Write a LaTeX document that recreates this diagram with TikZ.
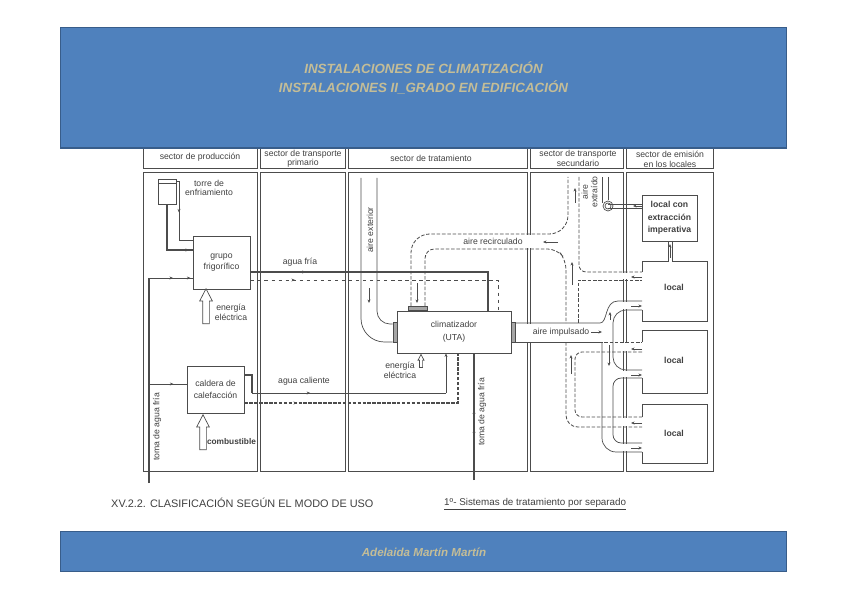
\documentclass[tikz,border=0pt]{standalone}
\usepackage{fontspec}
\setmainfont{Liberation Sans}
\usetikzlibrary{arrows.meta, shapes.arrows, decorations.markings}
\definecolor{azul}{HTML}{4F81BD}
\definecolor{azulborde}{HTML}{385D8A}
\definecolor{arena}{HTML}{C4BD97}
\definecolor{linea}{gray}{0.3}
\definecolor{texto}{gray}{0.25}
\tikzset{
    equipo/.style={draw=linea, line width=0.7pt, fill=white, align=center, inner sep=0pt, text=texto},
    rotulo/.style={text=texto, align=center, inner sep=0pt, font=\fontsize{7.4}{8}\selectfont},
    negrita/.style={text=texto, align=center, inner sep=0pt, font=\fontsize{7.4}{8}\selectfont\bfseries},
    banda/.style={fill=azul, draw=azulborde, line width=0.8pt},
    titulo/.style={text=arena, align=center, inner sep=0pt, font=\fontsize{11.4}{16.2}\selectfont\bfseries\itshape},
    agua/.style={draw=linea, line width=1.1pt},
    retorno/.style={draw=linea, line width=0.9pt, dash pattern=on 3pt off 1.2pt},
    conducto/.style={draw=linea, line width=0.6pt},
    recirc/.style={draw=linea, line width=0.7pt, dash pattern=on 3pt off 1.5pt},
    flecha/.style={draw=linea, line width=0.8pt, -{Stealth[length=3pt, width=2.5pt]}},
    gorda/.style={draw=linea, line width=0.6pt, fill=white, single arrow, shape border rotate=90, single arrow tip angle=55},
    marca/.style={postaction={decorate}, decoration={markings, mark=at position #1 with {\arrow{Stealth[length=3pt, width=2.5pt]}}}},
    marcados/.style 2 args={postaction={decorate}, decoration={markings,
        mark=at position #1 with {\arrow{Stealth[length=3pt, width=2.5pt]}},
        mark=at position #2 with {\arrow{Stealth[length=3pt, width=2.5pt]}}}},
}
\begin{document}
\begin{tikzpicture}[x=0.03cm, y=-0.03cm]
    \useasboundingbox (0,0) rectangle (848,599);

    % columnas de sectores
    \foreach \xa/\xb in {143/257, 260/345, 348/527, 530/623, 626/713} {
        \draw[linea, line width=0.6pt] (\xa,168) -- (\xa,145) (\xb,145) -- (\xb,168) -- (\xa,168);
        \draw[linea, line width=0.7pt] (\xa,172) rectangle (\xb,471);
    }
    \node[rotulo] (secprod) at (200,157) {sector de producción};
    \node[rotulo] (secprim) at (303,158.5) {sector de transporte\\primario};
    \node[rotulo] (sectrat) at (431,158) {sector de tratamiento};
    \node[rotulo] (secsec)  at (578,158.5) {sector de transporte\\secundario};
    \node[rotulo] (secemi)  at (670,159.5) {sector de emisión\\en los locales};

    % huecos de las columnas al paso de los conductos
    \fill[white] (515,323.5) rectangle (602,341.5);
    \fill[white] (525,235) rectangle (532,248);
    \foreach \ya/\yb in {273/279, 302/309, 343/351, 371/377, 418/426, 444/451} {
        \fill[white] (621,\ya) rectangle (628,\yb);
    }

    % equipos
    \node[equipo, minimum width=0.54cm, minimum height=0.75cm] (torre) at (167,191.5) {};
    \draw[linea, line width=0.4pt] (158,183) -- (176,183);
    \node[rotulo] (torretxt) at (209,188) {torre de\\enfriamiento};
    \node[equipo, minimum width=1.71cm, minimum height=1.59cm, font=\fontsize{7.4}{10}\selectfont] (grupo) at (221.5,262.5) {grupo\\frigorífico};
    \node[equipo, minimum width=1.71cm, minimum height=1.41cm, font=\fontsize{7.4}{10}\selectfont] (caldera) at (215.5,389.5) {caldera de\\calefacción};
    \node[equipo, minimum width=3.42cm, minimum height=1.26cm, font=\fontsize{7.4}{11}\selectfont] (uta) at (454,332) {climatizador\\(UTA)};
    \node[equipo, fill=linea!50, minimum width=0.12cm, minimum height=0.6cm] (flanizq) at (395,332) {};
    \node[equipo, fill=linea!50, minimum width=0.12cm, minimum height=0.6cm] (flander) at (513,332) {};
    \node[equipo, fill=linea!50, minimum width=0.57cm, minimum height=0.12cm] (flansup) at (417.5,308) {};
    \node[equipo, minimum width=1.65cm, minimum height=1.38cm, font=\fontsize{7.4}{10.5}\selectfont\bfseries] (localext) at (669.5,218) {local con\\extracción\\imperativa};

    % locales (con huecos para los conductos)
    \draw[linea, line width=0.8pt] (642,272) -- (642,261) -- (668,261) -- (668,241) (672,241) -- (672,261) -- (707,261) -- (707,321) -- (642,321) -- (642,310);
    \draw[linea, line width=0.8pt] (642,342) -- (642,330) -- (707,330) -- (707,393) -- (642,393) -- (642,378);
    \draw[linea, line width=0.8pt] (642,417) -- (642,404) -- (707,404) -- (707,463) -- (642,463) -- (642,452);
    \node[negrita] (localA) at (674,287) {local};
    \node[negrita] (localB) at (674,360) {local};
    \node[negrita] (localC) at (674,433) {local};

    % tuberias de la torre y toma de agua
    \draw[agua, marca=0.95] (torre.south) |- (grupo.west |- 0,250);
    \draw[conducto, marca=0.45] (torre.east |- 0,181) -| (179,240.5) -- (grupo.west |- 0,240.5);
    \draw[agua] (149,483) -- (149,278);
    \draw[conducto, marcados={0.55}{0.95}] (149,278) -- (grupo.west |- 0,278);
    \draw[conducto, marca=0.65] (149,384) -- (caldera.west |- 0,384);
    \node[rotulo, rotate=90] (tomaizq) at (157,427) {toma de agua fría};

    % agua fria
    \draw[agua, marca=0.2] (grupo.east |- 0,272) -| (uta.north -| 488,0);
    \draw[conducto, dashed, marca=0.16] (grupo.east |- 0,280) -| (uta.north -| 498,0);
    \node[rotulo] (fria) at (300,262) {agua fría};

    % agua caliente
    \draw[agua] (caldera.east |- 0,375) -| (252,393);
    \draw[conducto, marca=0.3] (252,393) -- (446,393);
    \draw[conducto, -{Stealth[length=3pt, width=2.5pt]}] (446,393) -- (uta.south -| 446,0);
    \draw[retorno, marca=0.2] (caldera.east |- 0,403) -| (uta.south -| 458,0);
    \node[rotulo] (caliente) at (304,381) {agua caliente};

    % toma de agua de la UTA
    \draw[agua, marcados={0.4}{0.55}] (474,480) -- (uta.south -| 474,0);
    \node[rotulo, rotate=90] (tomader) at (482,412) {toma de agua fría};

    % energia y combustible
    \node[gorda, inner sep=0.09cm, minimum height=1.05cm, minimum width=0.36cm, single arrow head extend=0.09cm] (eleca) at (206,309.5) {};
    \node[rotulo] (elecatxt) at (231,312.5) {energía\\eléctrica};
    \node[gorda, inner sep=0.09cm, minimum height=1.05cm, minimum width=0.36cm, single arrow head extend=0.09cm] (comb) at (203,435.5) {};
    \node[negrita, font=\fontsize{7.1}{8}\selectfont\bfseries] (combtxt) at (231.5,442) {combustible};
    \node[gorda, inner sep=0.035cm, minimum height=0.39cm, minimum width=0.18cm, single arrow head extend=0.04cm] (elecb) at (421,362.5) {};
    \node[rotulo] (elecbtxt) at (400,370.5) {energía\\eléctrica};

    % aire exterior
    \draw[conducto, rounded corners=20pt] (361,178) |- (flanizq.west |- 0,342);
    \draw[conducto, rounded corners=11pt] (377,178) |- (flanizq.west |- 0,324);
    \node[rotulo, rotate=90] (exterior) at (370,230) {aire exterior};
    \draw[flecha] (369,288) -- (369,303);

    % aire recirculado
    \draw[recirc, rounded corners=16pt] (411,306) |- (568,234) -- (568,177);
    \draw[recirc, rounded corners=8pt] (425,306) |- (557,249) -- (566,260) -- (566,323);
    \draw[recirc, rounded corners=10pt] (566,342) |- (642,427);
    \draw[recirc, rounded corners=6pt] (579,177) |- (642,272);
    \draw[recirc] (578,323) |- (642,280);
    \draw[recirc] (578,342) -- (642,342);
    \draw[recirc, rounded corners=6pt] (642,352) -| (575,417) -- (642,417);
    \node[rotulo] (recirctxt) at (493,241) {aire recirculado};
    \draw[flecha] (558,242) -- (543,242);
    \draw[flecha] (417,283) -- (417,303);
    \draw[flecha] (575,203) -- (575,188);
    \draw[flecha] (572,285) -- (572,262);
    \draw[flecha] (571,374) -- (571,355);
    \foreach \ya in {277, 349, 423} {
        \draw[flecha] (642,\ya) -- (631,\ya);
    }

    % aire impulsado
    \draw[conducto] (flander.east |- 0,323) -- (600,323) .. controls (608,323) and (604,301) .. (618,301) -- (642,301);
    \draw[conducto] (flander.east |- 0,342) -- (602,342);
    \draw[conducto, rounded corners=12pt] (602,342) |- (642,452);
    \draw[conducto, rounded corners=11pt] (642,310) -| (613,370) -- (642,370);
    \draw[conducto, rounded corners=7pt] (642,378) -| (613,443) -- (642,443);
    \node[rotulo] (impulsado) at (561,332) {aire impulsado};
    \draw[flecha] (591,332) -- (602,332);
    \foreach \ya in {306, 375, 448} {
        \draw[flecha] (631,\ya) -- (642,\ya);
    }
    \draw[flecha] (610,320) -- (610,312);
    \draw[flecha] (609,345) -- (609,366);

    % aire extraido
    \draw[conducto] (602,177) -- (602,203);
    \draw[conducto] (608,177) -- (608,200);
    \draw[conducto] (608,204) -- (localext.west |- 0,204);
    \draw[conducto] (608,208) -- (localext.west |- 0,208);
    \draw[conducto] (608,206) circle (5);
    \draw[conducto] (608,206) circle (3);
    \draw[flecha] (642,206) -- (633,206);
    \draw[flecha] (670,258) -- (670,244);
    \node[rotulo, rotate=90] (extraido) at (589.5,192) {aire\\extraído};

    % bandas
    \draw[banda] (60,27) rectangle (786,148);
    \draw[azulborde, line width=1.4pt] (60,147.5) -- (786,147.5);
    \node[titulo] (titsup) at (423.5,77.5) {INSTALACIONES DE CLIMATIZACIÓN\\INSTALACIONES II\_GRADO EN EDIFICACIÓN};
    \draw[banda] (60,531) rectangle (786,571);
    \node[titulo, font=\fontsize{9.9}{11}\selectfont\bfseries\itshape] (autora) at (424,552) {Adelaida Martín Martín};

    % pie de la figura
    \node[text=texto, inner sep=0pt, anchor=west, font=\fontsize{9.3}{10}\selectfont] (pie) at (111,503) {XV.2.2. CLASIFICACIÓN SEGÚN EL MODO DE USO};
    \node[text=texto, inner sep=0pt, anchor=west, font=\fontsize{8.4}{10}\selectfont] (piedos) at (444,504) {\underline{1º- Sistemas de tratamiento por separado}};
\end{tikzpicture}
\end{document}
